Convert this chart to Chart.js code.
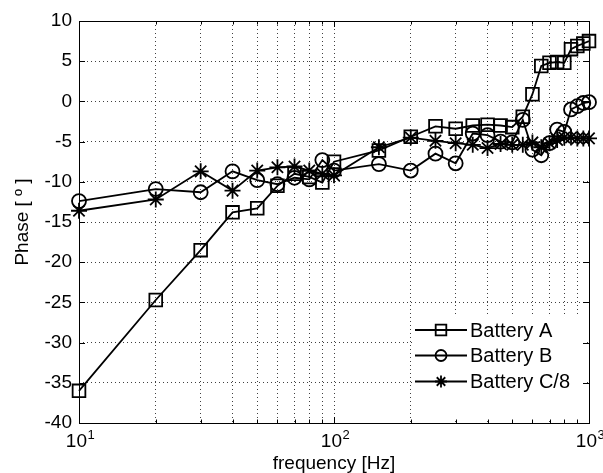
<!DOCTYPE html>
<html><head><meta charset="utf-8">
<script src="https://cdn.jsdelivr.net/npm/chart.js@4/dist/chart.umd.min.js"></script>
<style>html,body{margin:0;padding:0;background:#fff}canvas{display:block}</style>
</head><body>
<canvas id="c" width="603" height="473"></canvas>
<script>
const frequencies = [10,20,30,40,50,60,70,80,90,100,150,200,250,300,350,400,450,500,550,600,650,700,750,800,850,900,950,1000];
const batteryA  = [-36.0,-24.7,-18.5,-13.8,-13.3,-10.5,-9.0,-9.4,-10.1,-7.5,-6.1,-4.4,-3.1,-3.4,-3.0,-2.9,-3.0,-3.2,-1.9,0.9,4.4,4.8,4.9,4.8,6.5,6.9,7.2,7.5];
const batteryB  = [-12.4,-10.9,-11.3,-8.7,-9.8,-10.3,-9.5,-9.7,-7.3,-8.6,-7.8,-8.6,-6.5,-7.7,-4.0,-4.2,-5.0,-5.1,-2.3,-6.0,-6.7,-5.2,-3.5,-3.8,-1.0,-0.6,-0.2,-0.1];
const batteryC8 = [-13.6,-12.2,-8.7,-11.1,-8.6,-8.2,-8.1,-8.6,-9.0,-9.2,-5.7,-4.5,-4.9,-5.2,-5.4,-5.8,-5.3,-5.4,-5.4,-5.1,-5.7,-5.2,-4.8,-4.5,-4.5,-4.6,-4.6,-4.6];
const seriesNames = ['Battery A','Battery B','Battery C/8'];
const xGridTicks = [10,20,30,40,50,60,70,80,90,100,200,300,400,500,600,700,800,900,1000];
const xMajorTicks = [10,100,1000];
const xTickBase = '10';
const xTickExponents = ['1','2','3'];
const yTicks = [-40,-35,-30,-25,-20,-15,-10,-5,0,5,10];
const xTitle = 'frequency [Hz]';
const yTitle = 'Phase [ º ]';

const FONT = '"Liberation Sans", Arial, sans-serif';
const styles = [
  {pointStyle:'rect', radius:9, legendRadius:7.5},
  {pointStyle:'circle', radius:7, legendRadius:5.5},
  {pointStyle:'star', radius:8, legendRadius:6}
];
const seriesData = [batteryA, batteryB, batteryC8];

const datasets = seriesData.map((arr, i) => ({
  label: seriesNames[i],
  data: frequencies.map((f, j) => ({x: f, y: arr[j]})),
  borderColor: '#000',
  borderWidth: 1.8,
  backgroundColor: 'rgba(0,0,0,0)',
  pointStyle: styles[i].pointStyle,
  pointRadius: styles[i].radius,
  pointBorderColor: '#000',
  pointBackgroundColor: 'rgba(0,0,0,0)',
  pointBorderWidth: 1.8,
  tension: 0,
  clip: false
}));

const framePlugin = {
  id: 'frameAndLegend',
  afterDraw(chart) {
    const ctx = chart.ctx;
    const a = chart.chartArea;
    const xs = chart.scales.x, ys = chart.scales.y;
    ctx.save();
    // x tick labels with superscript exponents
    ctx.fillStyle = '#000';
    ctx.textBaseline = 'alphabetic';
    ctx.textAlign = 'left';
    xMajorTicks.forEach((v, i) => {
      const x = xs.getPixelForValue(v);
      ctx.font = '19px ' + FONT;
      const w1 = ctx.measureText(xTickBase).width;
      ctx.font = '13px ' + FONT;
      const w2 = ctx.measureText(xTickExponents[i]).width;
      const x0 = x - (w1 + w2) / 2 + 1;
      ctx.font = '19px ' + FONT;
      ctx.fillText(xTickBase, x0, 447);
      ctx.font = '13px ' + FONT;
      ctx.fillText(xTickExponents[i], x0 + w1 + 0.5, 439);
    });
    // legend box
    const lx = 413, ly = 316, lw = 174, lh = 104;
    ctx.fillStyle = '#fff';
    ctx.fillRect(lx, ly, lw, lh);
    const rowY = [330, 355.5, 381.5];
    ctx.font = '20px ' + FONT;
    ctx.textBaseline = 'middle';
    chart.data.datasets.forEach((ds, i) => {
      const y = rowY[i];
      ctx.strokeStyle = '#000';
      ctx.lineWidth = 1.8;
      ctx.beginPath();
      ctx.moveTo(415, y); ctx.lineTo(467, y);
      ctx.stroke();
      ctx.fillStyle = 'rgba(0,0,0,0)';
      Chart.helpers.drawPoint(ctx, {pointStyle: styles[i].pointStyle, radius: styles[i].legendRadius, rotation: 0, borderWidth: 1.8}, 441, y);
      ctx.fillStyle = '#000';
      ctx.fillText(ds.label, 470, y + 1);
    });
    // frame
    ctx.strokeStyle = '#000';
    ctx.lineWidth = 1;
    ctx.strokeRect(a.left + 0.5, a.top + 0.5, a.right - a.left, a.bottom - a.top);
    // inward ticks
    ctx.beginPath();
    yTicks.forEach(v => {
      const y = Math.round(ys.getPixelForValue(v)) + 0.5;
      ctx.moveTo(a.left, y); ctx.lineTo(a.left + 6, y);
      ctx.moveTo(a.right, y); ctx.lineTo(a.right - 6, y);
    });
    xGridTicks.forEach(v => {
      const x = Math.round(xs.getPixelForValue(v)) + 0.5;
      const len = xMajorTicks.includes(v) ? 6 : 3.5;
      ctx.moveTo(x, a.bottom); ctx.lineTo(x, a.bottom - len);
      ctx.moveTo(x, a.top); ctx.lineTo(x, a.top + len);
    });
    ctx.stroke();
    ctx.restore();
  }
};

new Chart(document.getElementById('c'), {
  type: 'line',
  data: { datasets },
  plugins: [framePlugin],
  options: {
    responsive: false,
    animation: false,
    events: [],
    layout: { padding: { left: 0, right: 14, top: 21, bottom: 0 } },
    plugins: { legend: { display: false }, tooltip: { enabled: false } },
    scales: {
      x: {
        type: 'logarithmic',
        min: 10, max: 1000,
        afterBuildTicks(scale) { scale.ticks = xGridTicks.map(v => ({value: v})); },
        afterFit(scale) { scale.height = 50; },
        ticks: {
          autoSkip: false, maxRotation: 0, padding: 5, color: '#000',
          font: { family: FONT, size: 19 },
          callback: () => ''
        },
        grid: { color: 'rgba(0,0,0,0.75)', lineWidth: 1, drawTicks: false },
        border: { display: false, dash: [1, 3] },
        title: { display: true, text: xTitle, color: '#000', font: { family: FONT, size: 19, lineHeight: 1 }, padding: { top: 0, bottom: 0 } }
      },
      y: {
        type: 'linear',
        min: -40, max: 10,
        afterBuildTicks(scale) { scale.ticks = yTicks.map(v => ({value: v})); },
        afterFit(scale) { scale.width = 79; },
        ticks: {
          padding: 7, color: '#000',
          font: { family: FONT, size: 19 },
          callback: (v) => String(v)
        },
        grid: { color: 'rgba(0,0,0,0.75)', lineWidth: 1, drawTicks: false },
        border: { display: false, dash: [1, 3] },
        title: { display: true, text: yTitle, color: '#000', font: { family: FONT, size: 19, lineHeight: 1 }, padding: { top: 13, bottom: 13 } }
      }
    }
  }
});
</script>
</body></html>
